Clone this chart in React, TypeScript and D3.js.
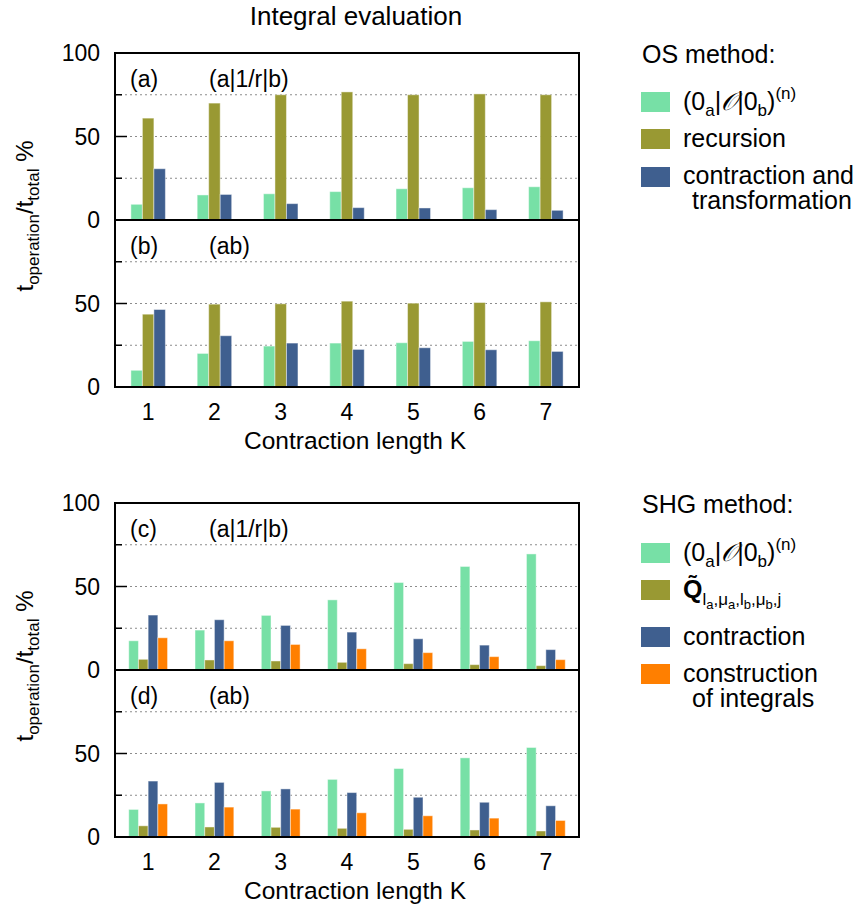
import React, { useEffect } from 'react'
import * as d3 from 'd3'

// contraction length K
const categories = ['1', '2', '3', '4', '5', '6', '7']

// OS method, (a|1/r|b)
const osIntegralA = [9.4, 15, 15.7, 17, 18.7, 19.3, 19.9]
const osRecursionA = [61, 70, 75, 76.7, 75, 75.5, 75]
const osContractionA = [30.7, 15.3, 9.8, 7.4, 7.2, 6.2, 5.8]

// OS method, (ab)
const osIntegralB = [10, 20.1, 24.5, 26.3, 26.5, 27.3, 27.7]
const osRecursionB = [43.6, 49.6, 49.8, 51.4, 50.2, 50.6, 51]
const osContractionB = [46.4, 30.7, 26.3, 22.5, 23.5, 22.3, 21.3]

// SHG method, (a|1/r|b)
const shgIntegralC = [17.5, 23.9, 32.7, 42, 52.4, 62, 69.5]
const shgQC = [6.4, 6, 5.4, 4.6, 3.8, 3.2, 2.6]
const shgContractionC = [32.9, 30.1, 26.7, 22.7, 18.7, 14.9, 12.2]
const shgConstructionC = [19.3, 17.5, 15.3, 12.7, 10.4, 8, 6.2]

// SHG method, (ab)
const shgIntegralD = [16.5, 20.4, 27.6, 34.5, 41, 47.4, 53.6]
const shgQD = [6.7, 6, 5.8, 5.2, 4.6, 4.2, 3.6]
const shgContractionD = [33.5, 32.7, 28.8, 26.6, 23.8, 20.8, 18.7]
const shgConstructionD = [19.8, 17.9, 16.7, 14.5, 12.7, 11.3, 9.9]

const majorTicks = [0, 50, 100]
const minorTicks = [25, 75]
const gridTicks = [25, 50, 75]

const GREEN = '#77e0a6'
const OLIVE = '#999933'
const BLUE = '#3f5f8f'
const ORANGE = '#ff7f00'

const FONT = '"Liberation Sans", Arial, Helvetica, sans-serif'
const X0 = 115
const X1 = 579
const LEG = 25

const x = d3.scaleBand().domain(categories).range([X0, X1]).padding(0)

function Panel({ top, height, series, colors, groupWidth, label, sub, showTop }) {
  const y = d3.scaleLinear().domain([0, 100]).range([top + height, top])
  const xs = d3.scaleBand().domain(d3.range(series.length).map(String))
    .range([-groupWidth / 2, groupWidth / 2]).padding(0)
  const labels = showTop ? majorTicks : majorTicks.filter(t => t < 100)
  return (
    <g>
      {gridTicks.map(t => (
        <line key={'g' + t} x1={X0} x2={X1} y1={y(t)} y2={y(t)}
          stroke="#8c8c8c" strokeWidth={1} strokeDasharray="2,3" />
      ))}
      {series.map((vals, si) => vals.map((v, i) => (
        <rect key={si + '-' + i}
          x={x(categories[i]) + x.bandwidth() / 2 + xs(String(si))}
          y={y(v)} width={xs.bandwidth()} height={y(0) - y(v)}
          fill={colors[si]} stroke="#ffffff" strokeOpacity={0.45} strokeWidth={1} />
      )))}
      {majorTicks.map(t => (
        <line key={'M' + t} x1={X0} x2={X0 + 12} y1={y(t)} y2={y(t)} stroke="#000" strokeWidth={1.5} />
      ))}
      {minorTicks.map(t => (
        <line key={'m' + t} x1={X0} x2={X0 + 7} y1={y(t)} y2={y(t)} stroke="#000" strokeWidth={1.5} />
      ))}
      {labels.map(t => (
        <text key={'l' + t} x={100} y={y(t)} dy="0.36em" textAnchor="end" fontSize={23}>{t}</text>
      ))}
      <rect x={X0} y={top} width={X1 - X0} height={height} fill="none" stroke="#000" strokeWidth={2} />
      <text x={130} y={top + 34} fontSize={23}>{label}</text>
      <text x={209} y={top + 34} fontSize={23}>{sub}</text>
    </g>
  )
}

function YLabel({ cy }) {
  return (
    <text transform={`translate(33,${cy}) rotate(-90)`} textAnchor="middle" fontSize={24}>
      t<tspan fontSize={17} dy={6}>operation</tspan>
      <tspan dy={-6}>/t</tspan>
      <tspan fontSize={17} dy={6}>total</tspan>
      <tspan dy={-6}>{' %'}</tspan>
    </text>
  )
}

function XAxisLabels({ base }) {
  return (
    <g>
      {categories.map(c => (
        <text key={c} x={x(c) + x.bandwidth() / 2} y={base + 33} textAnchor="middle" fontSize={23}>{c}</text>
      ))}
      <text x={(X0 + X1) / 2 + 8} y={base + 62} textAnchor="middle" fontSize={24.5}>Contraction length K</text>
    </g>
  )
}

function IntegralLabel({ x0, y0 }) {
  return (
    <text x={x0} y={y0} fontSize={LEG}>
      (0<tspan fontSize={17} dy={6}>a</tspan>
      <tspan dy={-6}>|</tspan>
      <tspan fontFamily='"DejaVu Sans", serif' fontStyle="italic">𝒪</tspan>
      <tspan>|0</tspan>
      <tspan fontSize={17} dy={6}>b</tspan>
      <tspan dy={-6}>)</tspan>
      <tspan fontSize={17} dy={-11}>(n)</tspan>
    </text>
  )
}

function QLabel({ x0, y0 }) {
  return (
    <text x={x0} y={y0} fontSize={LEG}>
      <tspan fontWeight="bold">Q̃</tspan>
      <tspan fontSize={17} dy={7}>l</tspan>
      <tspan fontSize={13} dy={4}>a</tspan>
      <tspan fontSize={17} dy={-4}>,μ</tspan>
      <tspan fontSize={13} dy={4}>a</tspan>
      <tspan fontSize={17} dy={-4}>,l</tspan>
      <tspan fontSize={13} dy={4}>b</tspan>
      <tspan fontSize={17} dy={-4}>,μ</tspan>
      <tspan fontSize={13} dy={4}>b</tspan>
      <tspan fontSize={17} dy={-4}>,j</tspan>
    </text>
  )
}

function TwoLine({ x0, y0, first, second }) {
  return (
    <text x={x0} y={y0} fontSize={LEG}>
      <tspan x={x0} y={y0}>{first}</tspan>
      <tspan x={x0 + 9} y={y0 + 25}>{second}</tspan>
    </text>
  )
}

function LegendBox({ y0, color }) {
  return <rect x={641} y={y0 - 10} width={29} height={20} fill={color} />
}

export default function App() {
  useEffect(() => {
    document.body.style.margin = '0'
  }, [])

  return (
    <svg width={860} height={909} style={{ display: 'block', background: '#fff' }} fontFamily={FONT}>
      <text x={356} y={25} textAnchor="middle" fontSize={26}>Integral evaluation</text>

      <Panel top={53} height={167} series={[osIntegralA, osRecursionA, osContractionA]}
        colors={[GREEN, OLIVE, BLUE]} groupWidth={34.5} label="(a)" sub="(a|1/r|b)" showTop />
      <Panel top={220} height={167} series={[osIntegralB, osRecursionB, osContractionB]}
        colors={[GREEN, OLIVE, BLUE]} groupWidth={34.5} label="(b)" sub="(ab)" showTop={false} />
      <YLabel cy={216} />
      <XAxisLabels base={387} />

      <text x={642} y={63} fontSize={LEG}>OS method:</text>
      <LegendBox y0={102} color={GREEN} />
      <IntegralLabel x0={683} y0={110} />
      <LegendBox y0={139} color={OLIVE} />
      <text x={683} y={147} fontSize={LEG}>recursion</text>
      <LegendBox y0={177} color={BLUE} />
      <TwoLine x0={683} y0={184} first="contraction and" second="transformation" />

      <Panel top={503} height={167} series={[shgIntegralC, shgQC, shgContractionC, shgConstructionC]}
        colors={[GREEN, OLIVE, BLUE, ORANGE]} groupWidth={38.8} label="(c)" sub="(a|1/r|b)" showTop />
      <Panel top={670} height={167} series={[shgIntegralD, shgQD, shgContractionD, shgConstructionD]}
        colors={[GREEN, OLIVE, BLUE, ORANGE]} groupWidth={38.8} label="(d)" sub="(ab)" showTop={false} />
      <YLabel cy={666} />
      <XAxisLabels base={837} />

      <text x={642} y={513} fontSize={LEG}>SHG method:</text>
      <LegendBox y0={553} color={GREEN} />
      <IntegralLabel x0={683} y0={561} />
      <LegendBox y0={590} color={OLIVE} />
      <QLabel x0={683} y0={598} />
      <LegendBox y0={637} color={BLUE} />
      <text x={683} y={645} fontSize={LEG}>contraction</text>
      <LegendBox y0={674} color={ORANGE} />
      <TwoLine x0={683} y0={682} first="construction" second="of integrals" />
    </svg>
  )
}
